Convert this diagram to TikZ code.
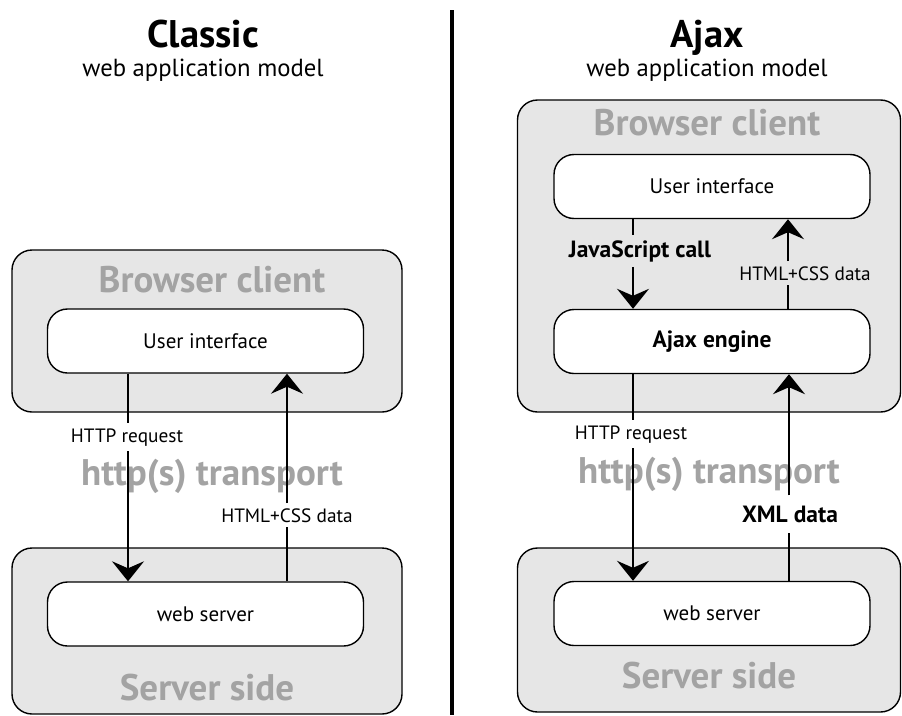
\documentclass[tikz,border=0pt]{standalone}
\usepackage{fontspec}
\setmainfont{PT Sans}
\usetikzlibrary{arrows.meta}
\definecolor{panelgray}{HTML}{E6E6E6}
\definecolor{titlegray}{HTML}{A3A3A3}
\tikzset{
  panel/.style={draw=black, line width=1.4pt, fill=panelgray, rounded corners=20pt, inner sep=0pt},
  innerbox/.style={draw=black, line width=1.4pt, fill=white, rounded corners=20pt, inner sep=0pt,
    minimum width=316pt, minimum height=64pt, font=\fontsize{21}{24}\selectfont},
  areatitle/.style={text=titlegray, font=\fontsize{37}{40}\selectfont\bfseries, anchor=base, inner sep=0pt},
  heading/.style={font=\fontsize{38.5}{42}\selectfont\bfseries, anchor=base, inner sep=0pt},
  subheading/.style={font=\fontsize{24.7}{28}\selectfont, anchor=base, inner sep=0pt},
  flowlabel/.style={font=\fontsize{19.3}{22}\selectfont, anchor=base, inner sep=5pt},
  flowlabelbold/.style={flowlabel, font=\fontsize{23.5}{26}\selectfont\bfseries},
  flow/.style={line width=1.4pt},
  flowarrow/.style={flow, -{Stealth[length=20pt, width=32pt, inset=7pt]}}
}
\begin{document}
\begin{tikzpicture}[x=1pt, y=-1pt]
  \useasboundingbox (0,0) rectangle (902,715);

  % headings and divider
  \node[heading] (hclassic) at (203,47) {Classic};
  \node[subheading] (sclassic) at (203,76) {web application model};
  \node[heading] (hajax) at (707,47) {Ajax};
  \node[subheading] (sajax) at (707,76) {web application model};
  \coordinate (divtop) at (452,10);
  \coordinate (divbot) at (452,715);
  \draw[line width=4pt] (divtop) -- (divbot);

  % ---------- classic model ----------
  \node[panel, minimum width=390pt, minimum height=162pt] (bcL) at (207,331) {};
  \node[areatitle] (bcLt) at (212,292) {Browser client};
  \node[innerbox] (uiL) at (205.5,341) {User interface};

  \node[areatitle] (trL) at (212,485) {http(s) transport};

  \node[panel, minimum width=390pt, minimum height=166pt] (ssL) at (207,631) {};
  \node[areatitle] (ssLt) at (207,700) {Server side};
  \node[innerbox] (wsL) at (205.5,614) {web server};

  \node[flowlabel] (reqL) at (127,442) {HTTP request};
  \node[flowlabel] (resL) at (287,522) {HTML+CSS data};

  \draw[flow] (128,0 |- uiL.south) -- (128,0 |- reqL.north);
  \draw[flowarrow] (128,0 |- reqL.south) -- (128,0 |- wsL.north);
  \draw[flow] (287,0 |- wsL.north) -- (287,0 |- resL.south);
  \draw[flowarrow] (287,0 |- resL.north) -- (287,0 |- uiL.south);

  % ---------- ajax model ----------
  \node[panel, minimum width=383pt, minimum height=312pt] (bcR) at (709,256) {};
  \node[areatitle] (bcRt) at (707,135) {Browser client};
  \node[innerbox] (uiR) at (712,186.5) {User interface};
  \node[innerbox, font=\fontsize{23.5}{26}\selectfont\bfseries] (ajR) at (712,341.5) {Ajax engine};

  \node[areatitle] (trR) at (709,483) {http(s) transport};

  \node[panel, minimum width=383pt, minimum height=164pt] (ssR) at (709,630) {};
  \node[areatitle] (ssRt) at (709,688) {Server side};
  \node[innerbox] (wsR) at (712,613.5) {web server};

  \node[flowlabelbold] (jsR) at (640,257) {JavaScript call};
  \node[flowlabel] (resR) at (805,280) {HTML+CSS data};
  \node[flowlabel] (reqR) at (631,439) {HTTP request};
  \node[flowlabelbold, inner sep=10pt] (xmlR) at (790,522) {XML data};

  \draw[flow] (633,0 |- uiR.south) -- (633,0 |- jsR.north);
  \draw[flowarrow] (633,0 |- jsR.south) -- (633,0 |- ajR.north);
  \draw[flow] (788,0 |- ajR.north) -- (788,0 |- resR.south);
  \draw[flowarrow] (788,0 |- resR.north) -- (788,0 |- uiR.south);

  \draw[flow] (633,0 |- ajR.south) -- (633,0 |- reqR.north);
  \draw[flowarrow] (633,0 |- reqR.south) -- (633,0 |- wsR.north);
  \draw[flow] (789,0 |- wsR.north) -- (789,0 |- xmlR.south);
  \draw[flowarrow] (789,0 |- xmlR.north) -- (789,0 |- ajR.south);
\end{tikzpicture}
\end{document}
